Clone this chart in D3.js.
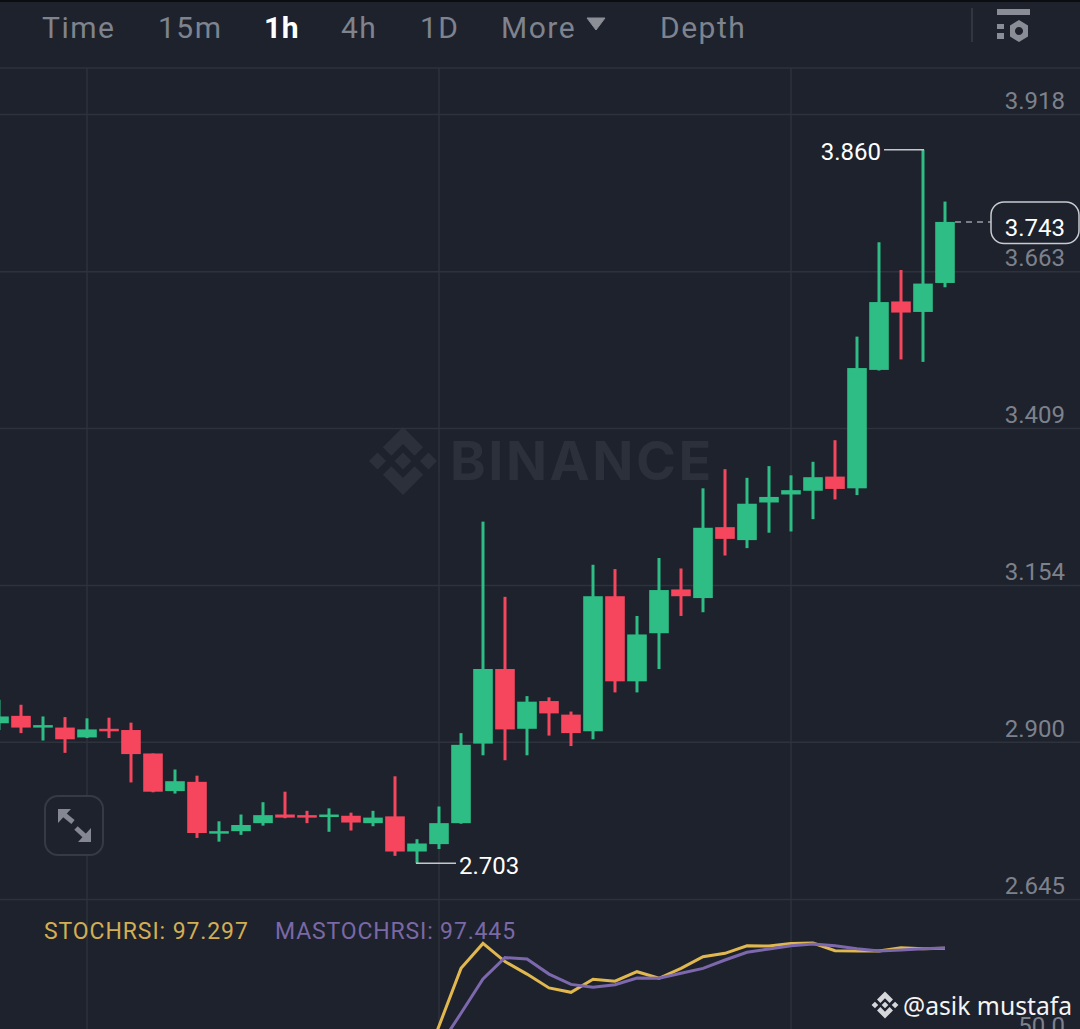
<!DOCTYPE html>
<html><head><meta charset="utf-8">
<script src="https://cdn.jsdelivr.net/npm/d3@7/dist/d3.min.js"></script>
<style>html,body{margin:0;padding:0;background:#1e232e;overflow:hidden}svg{display:block}text{font-family:Roboto,sans-serif}</style>
</head><body><svg id="c" width="1080" height="1029"></svg>
<script>
// Data
const candleIndex = d3.range(-1, 43);
const opens  = [2.930,2.942,2.923,2.923,2.907,2.921,2.919,2.881,2.820,2.835,2.751,2.755,2.768,2.782,2.781,2.778,2.780,2.768,2.779,2.722,2.734,2.768,2.897,3.018,2.921,2.966,2.944,2.917,3.136,2.998,3.076,3.147,3.133,3.248,3.227,3.288,3.301,3.307,3.330,3.311,3.503,3.614,3.597,3.644];
const highs  = [2.968,2.960,2.941,2.940,2.938,2.939,2.931,2.881,2.855,2.845,2.771,2.782,2.802,2.819,2.788,2.792,2.785,2.788,2.844,2.742,2.795,2.914,3.257,3.135,2.974,2.972,2.949,3.187,3.180,3.104,3.198,3.181,3.311,3.342,3.328,3.347,3.332,3.354,3.389,3.557,3.710,3.665,3.860,3.776];
const lows   = [2.919,2.914,2.902,2.882,2.906,2.906,2.834,2.818,2.816,2.744,2.738,2.749,2.764,2.776,2.768,2.754,2.756,2.763,2.715,2.703,2.726,2.767,2.878,2.870,2.878,2.910,2.893,2.904,2.980,2.980,3.018,3.104,3.110,3.202,3.214,3.239,3.241,3.261,3.293,3.300,3.502,3.520,3.516,3.637];
const closes = [2.941,2.923,2.927,2.904,2.920,2.918,2.880,2.819,2.836,2.752,2.755,2.765,2.781,2.777,2.778,2.782,2.769,2.777,2.722,2.735,2.768,2.895,3.018,2.920,2.965,2.946,2.914,3.136,2.998,3.074,3.146,3.136,3.247,3.229,3.286,3.297,3.308,3.329,3.310,3.506,3.613,3.596,3.643,3.743];
const stochIndex = d3.range(18, 43);
const stochRsi   = [30,58.1,87.2,99.8,90.6,84.3,77.3,75.1,81.7,80.7,85.5,82.2,87.2,93.1,94.8,98.6,98.5,99.8,100,96.1,96.0,96.0,97.6,97.1,97.297];
const maStochRsi = [28,47.6,64.5,81.8,92.6,91.9,84.3,79.1,77.6,78.9,82.3,82.2,84.7,87.2,91.4,95.3,97.0,98.6,99.5,98.6,97.1,96.0,96.5,97.1,97.445];
const priceTicks = [3.918,3.663,3.409,3.154,2.900,2.645];
const stochTicks = [50];
const timeGridIndex = [3,19,35];
const tabs = ["Time","15m","1h","4h","1D","More","Depth"];
const tabStart = [42,158,264,341,420,501,660];
const lastPrice = 3.743, maxPrice = 3.860, minPrice = 2.703;

const BG="#1d222d", GRID="#2e323d", UP="#2ebd85", DOWN="#f6465d", LABEL="#7d818b";
const svg = d3.select("#c");
svg.append("rect").attr("width",1080).attr("height",1029).attr("fill",BG);
svg.append("rect").attr("width",1080).attr("height",2).attr("fill","#0b0d10");

const x = d3.scaleLinear().domain([-1,42]).range([-1,945]);
const y = d3.scaleLinear().domain([3.918,2.645]).range([114,899]);
const ys = d3.scaleLinear().domain([100,50]).range([943,1042]);

// header separator
svg.append("line").attr("x1",0).attr("x2",1080).attr("y1",68).attr("y2",68).attr("stroke",GRID).attr("stroke-width",1.5);

// vertical grid
svg.append("g").selectAll("line").data(timeGridIndex).join("line")
  .attr("x1",d=>x(d)).attr("x2",d=>x(d)).attr("y1",68).attr("y2",1029)
  .attr("stroke",GRID).attr("stroke-width",1.5);

// watermark
function binanceLogo(g,cx,cy,s,fill){
  const u = g.append("g").attr("transform",`translate(${cx},${cy}) scale(${s})`).attr("fill",fill);
  u.append("path").attr("d","M0,-32 L19,-13 L11,-5 L0,-16 L-11,-5 L-19,-13 Z");
  u.append("path").attr("d","M0,32 L19,13 L11,5 L0,16 L-11,5 L-19,13 Z");
  u.append("path").attr("d","M0,-8 L8,0 L0,8 L-8,0 Z");
  u.append("path").attr("d","M-24,-8 L-16,0 L-24,8 L-32,0 Z");
  u.append("path").attr("d","M24,-8 L32,0 L24,8 L16,0 Z");
}
binanceLogo(svg,403,461,1.06,"#2c303b");
svg.append("text").attr("x",450).attr("y",480).attr("font-size",54).attr("font-weight",700)
  .attr("fill","#2c303b").attr("letter-spacing",2.5).style("font-family","Inter,Roboto,sans-serif").text("BINANCE");

// price axis with gridlines
const axis = d3.axisLeft(y).tickValues(priceTicks).tickSize(1080).tickFormat(d3.format(".3f"));
const ag = svg.append("g").attr("transform","translate(1080,0)").call(axis);
ag.select(".domain").remove();
ag.selectAll("line").attr("stroke",GRID).attr("stroke-width",1.5);
ag.selectAll("text").attr("x",-15).attr("dy",-5.5).attr("text-anchor","end").attr("font-size",24)
  .attr("fill",LABEL).style("font-family","Roboto,sans-serif");

// candles
const candles = candleIndex.map((k,i)=>({k,o:opens[i],h:highs[i],l:lows[i],c:closes[i]}));
const col = d=>d.c>=d.o?UP:DOWN;
const cg = svg.append("g");
cg.selectAll(".w").data(candles).join("line").attr("class","w")
  .attr("x1",d=>x(d.k)).attr("x2",d=>x(d.k)).attr("y1",d=>y(d.h)).attr("y2",d=>y(d.l))
  .attr("stroke",col).attr("stroke-width",3);
cg.selectAll(".b").data(candles).join("rect").attr("class","b")
  .attr("x",d=>x(d.k)-9.8).attr("width",19.6)
  .attr("y",d=>y(Math.max(d.o,d.c)))
  .attr("height",d=>Math.max(2.5,Math.abs(y(d.o)-y(d.c))))
  .attr("fill",col);

// extremes
const maxK = candleIndex[highs.indexOf(maxPrice)], minK = candleIndex[lows.indexOf(minPrice)];
svg.append("line").attr("x1",884).attr("x2",x(maxK)+1).attr("y1",y(maxPrice)).attr("y2",y(maxPrice)).attr("stroke","#c4c7cc").attr("stroke-width",1.5);
svg.append("text").attr("x",881).attr("y",y(maxPrice)+10.5).attr("text-anchor","end").attr("font-size",24).attr("fill","#fff").text(maxPrice.toFixed(3));
svg.append("line").attr("x1",x(minK)-1).attr("x2",456).attr("y1",y(minPrice)).attr("y2",y(minPrice)).attr("stroke","#c4c7cc").attr("stroke-width",1.5);
svg.append("text").attr("x",459).attr("y",y(minPrice)+10.5).attr("font-size",24).attr("fill","#fff").text(minPrice.toFixed(3));

// last price
svg.append("line").attr("x1",955).attr("x2",991).attr("y1",y(lastPrice)).attr("y2",y(lastPrice)).attr("stroke","#9a9da4").attr("stroke-width",1.5).attr("stroke-dasharray","6 5");
svg.append("rect").attr("x",991).attr("y",202).attr("width",88).attr("height",41.5).attr("rx",13).attr("fill",BG).attr("stroke","#c8cbd0").attr("stroke-width",1.5);
svg.append("text").attr("x",1065).attr("y",236).attr("text-anchor","end").attr("font-size",24).attr("fill","#fff").text(lastPrice.toFixed(3));

// header tabs
svg.append("g").selectAll("text").data(tabs).join("text")
  .attr("x",(d,i)=>tabStart[i]).attr("y",38).attr("font-size",30)
  .attr("font-weight",d=>d==="1h"?700:400).attr("fill",d=>d==="1h"?"#fff":"#7f838d").attr("letter-spacing",d=>d==="1h"?0.6:1.5).text(d=>d);
svg.append("path").attr("d","M587,18 L605,18 L596,30 Z").attr("fill","#8c8f96").attr("stroke","#8c8f96").attr("stroke-linejoin","round").attr("stroke-width",1);
svg.append("line").attr("x1",972).attr("x2",972).attr("y1",8).attr("y2",42).attr("stroke","#3a3e49").attr("stroke-width",1.5);
const gear = svg.append("g").attr("fill","#8a8d95");
gear.append("rect").attr("x",997).attr("y",9).attr("width",33).attr("height",6);
gear.append("rect").attr("x",997).attr("y",24).attr("width",7).attr("height",5);
gear.append("rect").attr("x",997).attr("y",33).attr("width",7).attr("height",6);
gear.append("path").attr("fill-rule","evenodd").attr("d","M1019,20 L1028,25.5 L1028,36.5 L1019,42 L1010,36.5 L1010,25.5 Z M1019,27 a4,4 0 1,0 0.01,0 Z");

// expand button
svg.append("rect").attr("x",45).attr("y",796).attr("width",58).attr("height",59).attr("rx",13).attr("fill",BG).attr("stroke","#363a45").attr("stroke-width",2);
const ex = svg.append("g").attr("fill","#858892").attr("stroke","none");
ex.append("path").attr("d","M58,809 L71,809 L58,823 Z");
ex.append("path").attr("d","M91,842 L78,842 L91,828 Z");
ex.append("line").attr("x1",62).attr("y1",813).attr("x2",73).attr("y2",822).attr("stroke","#858892").attr("stroke-width",5);
ex.append("line").attr("x1",87).attr("y1",838).attr("x2",76).attr("y2",828).attr("stroke","#858892").attr("stroke-width",5);

// stochastic pane
svg.append("text").attr("x",44).attr("y",939).attr("font-size",23).attr("fill","#d3ae52").attr("letter-spacing",0.9).text("STOCHRSI: 97.297");
svg.append("text").attr("x",275).attr("y",939).attr("font-size",23).attr("fill","#7b68a6").attr("letter-spacing",0.85).text("MASTOCHRSI: 97.445");
const line = d3.line().x(d=>x(d[0])).y(d=>ys(d[1]));
svg.append("path").datum(stochIndex.map((k,i)=>[k,stochRsi[i]])).attr("d",line).attr("fill","none").attr("stroke","#e0b84f").attr("stroke-width",3);
svg.append("path").datum(stochIndex.map((k,i)=>[k,maStochRsi[i]])).attr("d",line).attr("fill","none").attr("stroke","#7d68ad").attr("stroke-width",3);
svg.append("g").selectAll("text").data(stochTicks).join("text").attr("x",1065).attr("y",d=>ys(d)-8).attr("text-anchor","end")
  .attr("font-size",24).attr("fill",LABEL).text(d=>d.toFixed(1));

// user watermark
binanceLogo(svg,885,1005,0.42,"#d6d7da");
svg.append("text").attr("x",903).attr("y",1015).attr("font-size",24.7).attr("fill","#f4f4f5").style("font-family","'Noto Sans',sans-serif").text("@asik mustafa");
</script></body></html>
